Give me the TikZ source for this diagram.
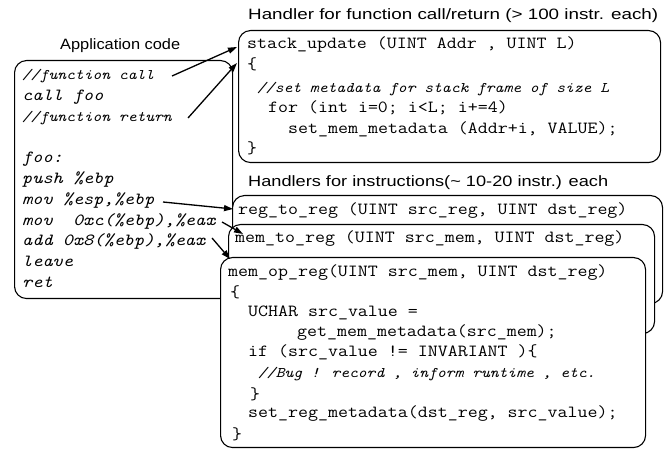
\documentclass[tikz,border=0pt]{standalone}
\usepackage{fontspec}
\usepackage{graphicx}
\setmainfont{Liberation Sans}
\newfontfamily\monofont[FakeStretch=1.14]{Latin Modern Mono}
\usetikzlibrary{arrows.meta}
\begin{document}
\begin{tikzpicture}[x=1pt,y=-1pt,
  box/.style={draw, line width=1.1pt, rounded corners=12pt, fill=white, inner sep=0pt, anchor=north west},
  code/.style={anchor=base west, inner sep=0pt, font=\monofont\fontsize{17}{20}\selectfont},
  icode/.style={anchor=base west, inner sep=0pt, font=\monofont\itshape\fontsize{17}{20}\selectfont},
  cmt/.style={anchor=base west, inner sep=0pt, font=\monofont\itshape\fontsize{14.7}{18}\selectfont},
  lab/.style={anchor=base west, inner sep=0pt, font=\fontsize{15}{18}\selectfont},
  arr/.style={-{Triangle[length=9pt,width=6pt]}, line width=1.3pt}
]
\useasboundingbox (0,0) rectangle (665,449);
\fill[white] (0,0) rectangle (665,449);

% boxes
\node[box, minimum width=218pt, minimum height=238pt] (app) at (14,60) {};
\node[box, minimum width=422pt, minimum height=132pt] (stack) at (238,30) {};
\node[box, minimum width=430pt, minimum height=108pt] (regbox) at (232,195) {};
\node[box, minimum width=426pt, minimum height=109pt] (memreg) at (228,224) {};
\node[box, minimum width=425pt, minimum height=190pt] (memop) at (220,257) {};

% labels
\node[lab] (tapp) at (60,50) {\resizebox{120pt}{\height}{Application code}};
\node[lab] (tstack) at (248,20) {\resizebox{410pt}{\height}{Handler for function call/return (> 100 instr. each)}};
\node[lab] (tinstr) at (248,187) {\resizebox{360pt}{\height}{Handlers for instructions(\char`~\ 10-20 instr.) each}};

% application code
\node[cmt]   (l1)  at (22,79.5)  {//function call};
\node[icode] (l2)  at (22,100.3) {call foo};
\node[cmt]   (l3)  at (22,121.1) {//function return};
\node[icode] (l5)  at (22,162.7) {foo:};
\node[icode] (l6)  at (22,183.5) {push \%ebp};
\node[icode] (l7)  at (22,204.3) {mov \%esp,\%ebp};
\node[icode] (l8)  at (22,225.1) {mov\ \ 0xc(\%ebp),\%eax};
\node[icode] (l9)  at (22,245.9) {add 0x8(\%ebp),\%eax};
\node[icode] (l10) at (22,266.7) {leave};
\node[icode] (l11) at (22,287.5) {ret};

% stack_update handler
\node[code] (s1) at (247,49)  {stack\_update (UINT Addr , UINT L)};
\node[code] (s2) at (247,70)  {\{};
\node[cmt]  (s3) at (257,93)  {//set metadata for stack frame of size L};
\node[code] (s4) at (268,113) {for (int i=0; i<L; i+=4)};
\node[code] (s5) at (288,134) {set\_mem\_metadata (Addr+i, VALUE);};
\node[code] (s6) at (247,154) {\}};

% instruction handlers
\node[code] (r1) at (238,215) {reg\_to\_reg (UINT src\_reg, UINT dst\_reg)};
\node[code] (m1) at (235,243) {mem\_to\_reg (UINT src\_mem, UINT dst\_reg)};
\node[code] (o1) at (228,277) {mem\_op\_reg(UINT src\_mem, UINT dst\_reg)};
\node[code] (o2) at (230,298) {\{};
\node[code] (o3) at (248,317) {UCHAR src\_value =};
\node[code] (o4) at (297,337) {get\_mem\_metadata(src\_mem);};
\node[code] (o5) at (248,357) {if (src\_value != INVARIANT )\{};
\node[cmt]  (o6) at (258,378) {//Bug ! record , inform runtime , etc.};
\node[code] (o7) at (250,400) {\}};
\node[code] (o8) at (248,418) {set\_reg\_metadata(dst\_reg, src\_value);};
\node[code] (o9) at (232,440) {\}};

% connector ends
\coordinate (a1s) at (172,76);  \coordinate (a1e) at (237,47);
\coordinate (a2s) at (188,118); \coordinate (a2e) at (237,63);
\coordinate (a3s) at (163,202); \coordinate (a3e) at (233,209);
\coordinate (a4s) at (222,222); \coordinate (a4e) at (243,234);
\coordinate (a5s) at (212,238); \coordinate (a5e) at (230,259);

\draw[arr] (a1s) -- (a1e);
\draw[arr] (a2s) -- (a2e);
\draw[arr] (a3s) -- (a3e);
\draw[arr] (a4s) -- (a4e);
\draw[arr] (a5s) -- (a5e);
\end{tikzpicture}
\end{document}
